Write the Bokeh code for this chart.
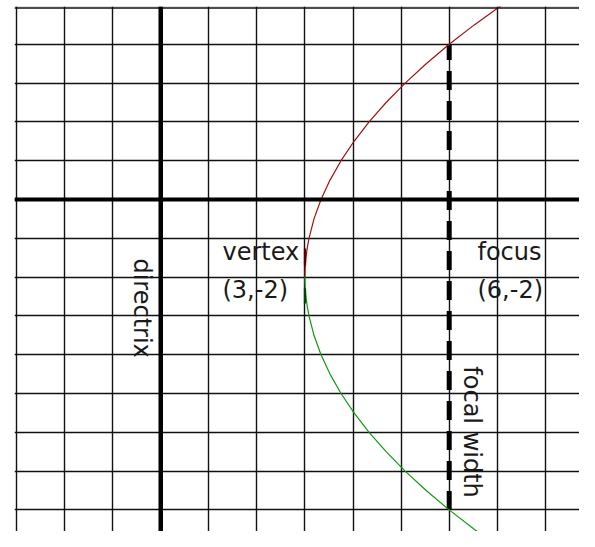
from bokeh.plotting import figure
from bokeh.models import Grid, FixedTicker, Range1d, Span
from bokeh.core.properties import value
from bokeh.embed import file_html
from bokeh.resources import INLINE
import math

# ---- data ----
grid_x = [-3, -2, -1, 0, 1, 2, 3, 4, 5, 6, 7, 8, 9]
grid_y = [-9, -8, -7, -6, -5, -4, -3, -2, -1, 0, 1, 2, 3, 4, 5]

# upper branch of (y+2)^2 = 12 (x-3)
upper_y = [-2.0, -1.9, -1.75, -1.5, -1.25, -1.0, -0.5, 0.0, 0.5, 1.0, 1.5, 2.0, 2.5, 3.0, 3.5, 4.0, 4.5, 5.0]
upper_x = [3.0, 3.0008, 3.0052, 3.0208, 3.0469, 3.0833, 3.1875, 3.3333, 3.5208, 3.75, 4.0208, 4.3333, 4.6875, 5.0833, 5.5208, 6.0, 6.5208, 7.0833]
# lower branch
lower_y = [-2.0, -2.1, -2.25, -2.5, -2.75, -3.0, -3.5, -4.0, -4.5, -5.0, -5.5, -6.0, -6.5, -7.0, -7.5, -8.0, -8.5, -9.0]
lower_x = [3.0, 3.0008, 3.0052, 3.0208, 3.0469, 3.0833, 3.1875, 3.3333, 3.5208, 3.75, 4.0208, 4.3333, 4.6875, 5.0833, 5.5208, 6.0, 6.5208, 7.0833]

# short dark marks along the vertex
mark_x0 = [3.0, 3.0]
mark_y0 = [-1.26, -2.29]
mark_y1 = [-1.70, -2.68]
mark_color = ["#550000", "#004400"]

directrix_x = 0
axis_y = 0
focus = (6, -2)
focal_top = 4
focal_bottom = -8
top_border_y = 4.936

label_text = ["vertex", "(3,-2)", "focus", "(6,-2)"]
label_x = [1.284, 1.284, 6.588, 6.588]
label_y = [-1.365, -2.32, -1.345, -2.32]

rot_text = ["directrix", "focal width"]
rot_x = [-0.40, 6.484]
rot_y = [-1.52, -4.30]

# ---- figure ----
p = figure(width=579, height=531, output_backend="svg", toolbar_location=None,
           x_axis_type=None, y_axis_type=None,
           x_range=Range1d(-3.0416, 8.710), y_range=Range1d(-8.557, 4.974),
           min_border_left=14, min_border_right=0, min_border_top=6, min_border_bottom=0)
p.outline_line_color = None
p.background_fill_color = "white"
p.border_fill_color = "white"

p.add_layout(Grid(dimension=0, ticker=FixedTicker(ticks=grid_x),
                  grid_line_color="#111111", grid_line_width=1.4))
p.add_layout(Grid(dimension=1, ticker=FixedTicker(ticks=grid_y),
                  grid_line_color="#111111", grid_line_width=1.4))

# top border
p.add_layout(Span(location=top_border_y, dimension="width", line_color="#111111", line_width=1.5))

# thick axis and directrix
p.add_layout(Span(location=axis_y, dimension="width", line_color="black", line_width=4))
p.add_layout(Span(location=directrix_x, dimension="height", line_color="black", line_width=4.5))

# focal width dashed line
p.line([focus[0], focus[0]], [focal_bottom, focal_top], line_color="black", line_width=5,
       line_dash="19 11", line_cap="butt")

# parabola
p.line(upper_x, upper_y, line_color="#a01010", line_width=1.2)
p.line(lower_x, lower_y, line_color="#119911", line_width=1.2)
p.segment(x0=mark_x0, y0=mark_y0, x1=mark_x0, y1=mark_y1, line_color=mark_color, line_width=2.2)

# labels
p.text(label_x, label_y, text=label_text, text_font=value("DejaVu Sans"),
       text_font_size="24px", text_color="#1a1a1a", text_align="left",
       text_baseline="alphabetic")
p.text(rot_x, rot_y, text=rot_text, angle=-math.pi / 2, text_font=value("DejaVu Sans"),
       text_font_size="24px", text_color="#1a1a1a", text_align="left",
       text_baseline="alphabetic")

open("out.html", "w").write(file_html(p, INLINE))
